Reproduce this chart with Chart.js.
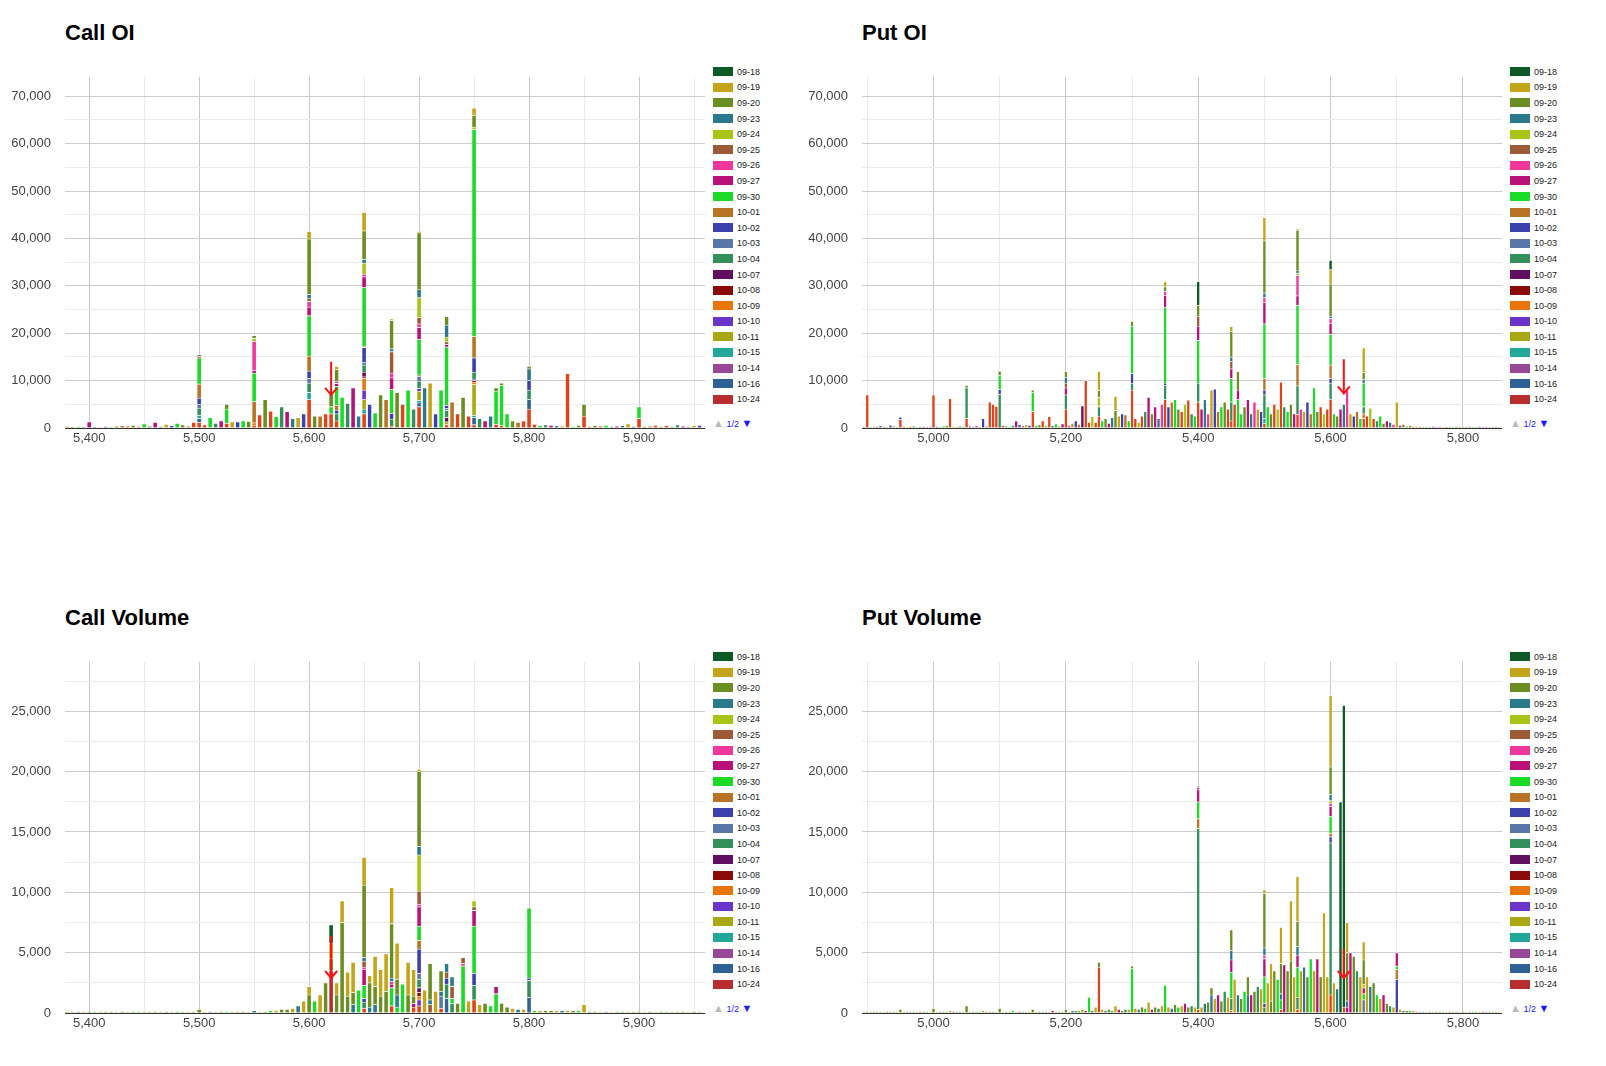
<!DOCTYPE html>
<html>
<head>
<meta charset="utf-8">
<script src="https://cdn.jsdelivr.net/npm/chart.js@4"></script>
<style>
  html, body { margin: 0; padding: 0; overflow: hidden; width: 1606px; height: 1066px; background: #fff; font-family: "Liberation Sans", Arial, sans-serif; }
  #page { position: relative; width: 1606px; height: 1066px; overflow: hidden; }
  .title { position: absolute; font-weight: bold; font-size: 22px; color: #000; }
  .box { position: absolute; }
  .legend { position: absolute; font-size: 9px; color: #222; }
  .legend div { height: 15.6px; display: flex; align-items: center; }
  .legend span.sw { display: inline-block; width: 20px; height: 9px; margin-right: 4px; }
  .pager { position: absolute; font-size: 9px; color: #1a1aff; }
</style>
</head>
<body>
<div id="page"></div>
<script>
// expiries shown in the legend (first page), plus one from page 2
const expiries = ["09-18", "09-19", "09-20", "09-23", "09-24", "09-25", "09-26", "09-27", "09-30", "10-01",
  "10-02", "10-03", "10-04", "10-07", "10-08", "10-09", "10-10", "10-11", "10-15", "10-14", "10-16", "10-24", "10-31"];
const expiryColors = ["#0d5a26", "#c4a41a", "#6b8e23", "#2a7a8c", "#a8c414", "#9c5b36", "#f0389c", "#b8127a", "#1adb26", "#b87424",
  "#3c40ac", "#5876a8", "#33905a", "#620f62", "#8a0a0a", "#e8740a", "#6a34c8", "#aaa812", "#22a898", "#984896", "#2e6296", "#b82e2e", "#e0431a"];
const legendCount = 22;

const range = (start, count) => Array.from({ length: count }, (_, i) => start + 5 * i);
const callStrikes = range(5380, 116);
const putStrikes = range(4895, 193);

// axis ticks
const callXTicks = [5400, 5450, 5500, 5550, 5600, 5650, 5700, 5750, 5800, 5850, 5900, 5950];
const putXTicks = [4900, 5000, 5100, 5200, 5300, 5400, 5500, 5600, 5700, 5800];
const oiYTicks = [0, 5000, 10000, 15000, 20000, 25000, 30000, 35000, 40000, 45000, 50000, 55000, 60000, 65000, 70000];
const volYTicks = [0, 2500, 5000, 7500, 10000, 12500, 15000, 17500, 20000, 22500, 25000, 27500];

// ---- Call OI ----
const callOiTotals = [
  300, 200, 300, 200, 1300, 200, 100, 300, 200, 400,
  500, 400, 600, 300, 900, 400, 1200, 300, 800, 500,
  1000, 700, 400, 1200, 15500, 700, 2200, 1000, 1500, 5000,
  1300, 1300, 1500, 1400, 19500, 2800, 6000, 3600, 2400, 4500,
  3500, 2000, 2200, 3000, 43500, 2500, 2500, 3000, 7500, 13000,
  6500, 5200, 8500, 2500, 45500, 5000, 3200, 7000, 6000, 23000,
  7500, 5000, 8000, 4000, 41500, 8500, 9500, 3000, 8000, 23500,
  5500, 3000, 6500, 2500, 67500, 2000, 1500, 2500, 8500, 9500,
  3000, 1500, 1200, 1500, 13000, 800, 500, 700, 600, 500,
  400, 11500, 300, 600, 5000, 300, 500, 400, 600, 300,
  400, 500, 900, 300, 4500, 300, 400, 600, 300, 500,
  300, 700, 400, 300, 500, 600];
const callOiMix = [2, 22, 8, 12, 7, 3, 1, 10, 8, 2, 9, 22];
const callOiSplit = [
  [5500, [[22, 1200], [12, 1500], [11, 800], [10, 1300], [9, 3000], [8, 5500], [7, 300], [20, 800], [18, 700], [2, 400]]],
  [5525, [[22, 1000], [8, 3000], [2, 1000]]],
  [5550, [[22, 500], [15, 600], [9, 4500], [8, 6000], [7, 500], [6, 6200], [4, 600], [2, 600]]],
  [5600, [[22, 6000], [18, 1500], [12, 2000], [11, 1000], [10, 1500], [9, 3200], [8, 8500], [7, 1800], [6, 1200], [5, 700], [3, 800], [2, 11700], [1, 1600]]],
  [5620, [[22, 3000], [2, 3000], [8, 1500]]],
  [5625, [[22, 1500], [12, 1500], [10, 800], [9, 1000], [8, 4000], [7, 600], [6, 500], [2, 2500], [1, 600]]],
  [5650, [[22, 3000], [17, 2000], [16, 2000], [15, 2500], [14, 300], [13, 1000], [12, 1500], [11, 500], [10, 3200], [9, 300], [18, 1000], [8, 12400], [7, 2200], [6, 600], [4, 2300], [3, 800], [2, 6000], [1, 3900]]],
  [5675, [[22, 400], [12, 1500], [8, 5000], [10, 1200], [7, 2500], [6, 1000], [5, 4500], [3, 600], [2, 6000], [1, 300]]],
  [5700, [[20, 800], [22, 4500], [18, 500], [17, 2000], [12, 1500], [16, 600], [11, 1000], [9, 300], [8, 7500], [7, 2500], [6, 800], [5, 1300], [4, 4200], [3, 1700], [2, 12000], [1, 300]]],
  [5725, [[22, 700], [17, 600], [12, 1500], [13, 900], [11, 400], [10, 700], [8, 12300], [7, 500], [5, 600], [4, 1000], [3, 2500], [2, 1800]]],
  [5750, [[22, 700], [15, 500], [12, 1500], [17, 6500], [14, 300], [13, 300], [18, 500], [20, 1500], [10, 3000], [9, 4500], [8, 43700], [4, 500], [2, 2500], [1, 1500]]],
  [5770, [[22, 800], [8, 7000], [2, 700]]],
  [5775, [[22, 500], [8, 8500], [2, 500]]],
  [5800, [[22, 4000], [12, 2000], [10, 2000], [20, 2000], [3, 2500], [2, 500]]],
  [5835, [[22, 11500]]],
  [5850, [[22, 2500], [2, 2500]]],
  [5900, [[22, 2000], [8, 2500]]]];

// ---- Put OI ----
const putOiTotals = [
  300, 7000, 200, 300, 300, 500, 300, 200, 600, 400, 200, 2300, 300, 200, 300, 400, 200, 300, 300, 200,
  300, 7000, 300, 200, 400, 500, 6200, 300, 200, 400, 300, 9000, 400, 300, 500, 300, 2000, 400, 5500, 5000,
  4600, 12000, 500, 400, 300, 600, 1500, 800, 500, 700, 600, 8000, 500, 700, 1500, 600, 2400, 500, 900, 400,
  900, 11900, 600, 1000, 1500, 800, 4700, 10000, 1200, 2400, 1200, 11900, 1500, 2000, 1000, 2200, 6700, 2500, 3000, 2800,
  1500, 22500, 2000, 1200, 2500, 3500, 6500, 3000, 4500, 2000, 5000, 30900, 4500, 5500, 6000, 4000, 3500, 5000, 5900, 3000,
  2500, 30900, 4000, 6000, 3000, 8000, 8200, 3500, 4500, 5500, 4000, 21400, 5000, 11900, 3000, 4500, 6000, 3000, 5500, 4000,
  3500, 44400, 4500, 3000, 5000, 4000, 9700, 4500, 3500, 5000, 3000, 42000, 4000, 3500, 5500, 3000, 8500, 3500, 4500, 3000,
  4000, 35400, 3000, 2500, 4000, 5000, 8000, 3000, 2500, 3500, 2000, 16900, 2500, 4200, 2000, 1500, 2500, 1000, 1500, 1200,
  800, 5500, 600, 800, 400, 500, 300, 400, 300, 200, 300, 200, 300, 200, 300, 200, 200, 300, 200, 300,
  200, 300, 200, 300, 200, 200, 300, 200, 300, 200, 200, 300, 200];
const putOiMix = [22, 12, 8, 2, 7, 3, 6, 1, 10, 9, 8, 2, 22, 4];
const putOiSplit = [
  [4900, [[22, 7000]]], [4950, [[22, 1800], [10, 500]]], [5000, [[22, 7000]]], [5025, [[22, 6200]]],
  [5050, [[22, 2000], [12, 6500], [2, 500]]], [5085, [[22, 5500]]], [5090, [[22, 5000]]], [5095, [[22, 4600]]],
  [5100, [[22, 100], [12, 7000], [10, 1000], [8, 3000], [2, 900]]],
  [5150, [[22, 3500], [8, 4000], [2, 500]]],
  [5200, [[22, 4000], [12, 3000], [7, 1500], [5, 1000], [3, 1200], [2, 1200]]],
  [5225, [[13, 4700]]], [5230, [[22, 10000]]],
  [5250, [[22, 2500], [12, 2000], [4, 2000], [1, 4000], [2, 1400]]],
  [5275, [[2, 3700], [1, 3000]]],
  [5300, [[22, 8000], [12, 1500], [10, 2000], [8, 10000], [2, 1000]]],
  [5325, [[7, 6500]]],
  [5350, [[22, 6000], [12, 3000], [10, 500], [8, 16000], [7, 2500], [6, 800], [2, 1000], [1, 1100]]],
  [5400, [[22, 5500], [0, 5000], [12, 4000], [8, 9000], [7, 3000], [5, 2000], [2, 2400]]],
  [5450, [[22, 1500], [12, 4000], [3, 1000], [8, 5000], [7, 2000], [5, 1500], [2, 5400], [1, 1000]]],
  [5460, [[8, 6000], [7, 2000], [2, 3900]]],
  [5500, [[22, 1000], [12, 5000], [18, 1000], [10, 1000], [9, 2500], [8, 11500], [7, 4500], [6, 1000], [3, 1000], [2, 11000], [1, 4900]]],
  [5550, [[22, 2900], [12, 6000], [9, 4500], [8, 12500], [7, 2000], [6, 4300], [4, 500], [3, 500], [2, 8500], [1, 300]]],
  [5600, [[22, 6000], [12, 3500], [0, 2000], [10, 1000], [9, 2800], [8, 6500], [7, 2300], [6, 1000], [3, 500], [2, 6800], [1, 3000]]],
  [5650, [[22, 2000], [15, 1000], [12, 1500], [8, 5000], [3, 700], [2, 1500], [1, 5200]]]];

// ---- Call Volume ----
const callVolTotals = [
  100, 100, 100, 100, 100, 100, 100, 100, 100, 100,
  100, 100, 100, 100, 100, 100, 100, 100, 100, 100,
  100, 100, 100, 100, 300, 100, 100, 100, 100, 100,
  100, 100, 100, 100, 200, 100, 100, 200, 200, 300,
  300, 400, 600, 1000, 2200, 1000, 1500, 2500, 7300, 2500,
  9300, 3400, 4200, 1900, 12900, 3100, 4700, 3600, 4900, 10400,
  5800, 2400, 4200, 3600, 20200, 1900, 4100, 1800, 3500, 4100,
  3000, 800, 4600, 1000, 9300, 700, 800, 600, 2200, 800,
  500, 400, 300, 300, 8700, 200, 200, 200, 200, 200,
  200, 200, 200, 200, 700, 100, 100, 100, 100, 100,
  100, 100, 100, 100, 100, 100, 100, 100, 100, 100,
  100, 100, 100, 100, 100, 100];
const callVolMix = [2, 1, 3, 1, 2, 8, 1, 2];
const callVolSplit = [
  [5600, [[2, 1500], [1, 700]]],
  [5620, [[21, 3500], [2, 1000], [1, 1300], [0, 1500]]],
  [5625, [[2, 1500], [1, 1000]]],
  [5630, [[2, 7500], [1, 1800]]],
  [5635, [[2, 1400], [1, 2000]]],
  [5640, [[3, 700], [2, 1000], [1, 2500]]],
  [5650, [[22, 400], [10, 300], [12, 500], [8, 1100], [7, 1300], [6, 200], [5, 500], [3, 300], [2, 6000], [1, 2300]]],
  [5655, [[3, 500], [2, 2000], [1, 600]]],
  [5660, [[3, 700], [2, 1500], [1, 2500]]],
  [5665, [[2, 1400], [1, 2200]]],
  [5670, [[2, 1800], [1, 3100]]],
  [5675, [[22, 600], [8, 1500], [7, 300], [6, 200], [3, 300], [2, 4500], [1, 3000]]],
  [5680, [[8, 500], [3, 1000], [2, 1300], [1, 3000]]],
  [5690, [[2, 1500], [1, 2700]]],
  [5695, [[22, 500], [7, 300], [2, 600], [1, 2200]]],
  [5700, [[22, 600], [15, 300], [14, 300], [13, 400], [12, 700], [11, 500], [16, 500], [10, 2000], [9, 700], [8, 1200], [7, 1600], [6, 200], [5, 1100], [4, 3000], [3, 700], [2, 6200], [1, 200]]],
  [5710, [[5, 700], [3, 400], [2, 3000]]],
  [5720, [[22, 400], [11, 1000], [3, 400], [2, 1700]]],
  [5725, [[20, 1200], [12, 1200], [10, 500], [5, 500], [3, 700]]],
  [5730, [[12, 800], [8, 400], [5, 1000], [3, 800]]],
  [5740, [[8, 3900], [6, 200], [5, 500]]],
  [5750, [[22, 1100], [12, 1200], [10, 1000], [8, 3900], [7, 1300], [5, 300], [4, 500]]],
  [5770, [[8, 1600], [7, 600]]],
  [5800, [[8, 5800], [12, 1400], [20, 1300], [10, 200]]]];

// ---- Put Volume ----
const putVolTotals = [
  100, 100, 100, 100, 100, 100, 100, 100, 100, 100, 100, 300, 100, 100, 100, 100, 100, 100, 100, 100,
  100, 400, 100, 100, 100, 100, 200, 100, 100, 100, 100, 600, 100, 100, 100, 100, 200, 100, 100, 100,
  100, 400, 100, 100, 100, 200, 100, 100, 100, 100, 100, 300, 100, 100, 100, 100, 100, 200, 100, 100,
  100, 300, 100, 200, 200, 200, 300, 200, 1300, 200, 500, 4200, 300, 200, 300, 200, 600, 300, 200, 300,
  300, 3900, 400, 300, 500, 400, 900, 300, 500, 400, 600, 2300, 500, 400, 700, 500, 600, 800, 500, 600,
  500, 18800, 500, 800, 900, 2100, 1200, 1500, 1000, 1800, 1300, 6900, 2800, 1500, 1200, 1800, 3000, 1500, 1800, 2200,
  2000, 10200, 2500, 4100, 3500, 2800, 7100, 4000, 3500, 9300, 3000, 11300, 3500, 3800, 3000, 4500, 3500, 4500, 3000, 8300,
  3000, 26300, 2500, 2000, 17500, 25500, 7500, 5000, 4700, 3500, 3000, 5900, 3000, 2200, 2500, 1500, 1200, 1500, 800, 600,
  500, 5000, 300, 200, 200, 200, 200, 100, 100, 100, 100, 100, 100, 100, 100, 100, 100, 100, 100, 100,
  100, 100, 100, 100, 100, 100, 100, 100, 100, 100, 100, 100, 100];
const putVolMix = [1, 2, 1, 3, 2, 8, 1, 7, 2, 12];
const putVolSplit = [
  [5235, [[8, 1300]]],
  [5250, [[22, 3800], [2, 400]]],
  [5300, [[8, 3700], [2, 200]]],
  [5350, [[8, 2300]]],
  [5400, [[22, 300], [12, 15000], [9, 800], [8, 1400], [7, 1000], [6, 200], [2, 100]]],
  [5420, [[3, 1500], [2, 600]]],
  [5450, [[22, 200], [12, 1000], [8, 2200], [7, 1000], [3, 800], [2, 1700]]],
  [5475, [[3, 1500], [2, 1500]]],
  [5500, [[12, 500], [10, 300], [8, 2200], [7, 1500], [6, 300], [3, 600], [2, 4500], [1, 300]]],
  [5510, [[2, 1000], [1, 3100]]],
  [5525, [[22, 300], [8, 800], [3, 500], [2, 2500], [1, 3000]]],
  [5540, [[2, 4300], [1, 5000]]],
  [5550, [[22, 300], [12, 1000], [8, 2500], [7, 1000], [3, 700], [2, 2100], [1, 3700]]],
  [5590, [[1, 8300]]],
  [5600, [[22, 1500], [12, 12600], [10, 500], [9, 300], [8, 1400], [7, 800], [6, 300], [4, 200], [3, 500], [2, 2300], [1, 5900]]],
  [5615, [[0, 17500]]],
  [5620, [[22, 500], [0, 25000]]],
  [5625, [[7, 500], [3, 500], [2, 4000], [1, 2500]]],
  [5650, [[11, 1100], [8, 500], [7, 500], [4, 300], [2, 2000], [1, 1500]]],
  [5700, [[10, 2800], [9, 800], [8, 300], [7, 1100]]]];

// ---- page layout ----
const page = document.getElementById("page");

function buildDatasets(strikes, totals, mix, split) {
  const splitMap = new Map(split);
  const perSeries = expiries.map(() => []);
  strikes.forEach((s, i) => {
    if (splitMap.has(s)) {
      splitMap.get(s).forEach(([k, v]) => perSeries[k].push({ x: s, y: v }));
    } else {
      perSeries[mix[i % mix.length]].push({ x: s, y: totals[i] });
    }
  });
  // first expiry sits on top of the stack, so feed them bottom-up
  const sets = [];
  for (let k = expiries.length - 1; k >= 0; k--) {
    sets.push({
      label: expiries[k],
      data: perSeries[k],
      backgroundColor: expiryColors[k],
      borderColor: "#ffffff",
      borderWidth: { top: 0.8, bottom: 0, left: 0, right: 0 },
      borderSkipped: false,
    });
  }
  return sets;
}

const arrowPlugin = {
  id: "spotArrow",
  afterDatasetsDraw(chart, args, opts) {
    const { ctx, scales } = chart;
    const x = scales.x.getPixelForValue(opts.x);
    const y1 = scales.y.getPixelForValue(opts.from);
    const y2 = scales.y.getPixelForValue(opts.to);
    ctx.save();
    ctx.strokeStyle = "#ff1010";
    ctx.lineWidth = 2;
    ctx.beginPath();
    ctx.moveTo(x, y1);
    ctx.lineTo(x, y2);
    ctx.moveTo(x - 6, y2 - 7);
    ctx.lineTo(x, y2);
    ctx.lineTo(x + 6, y2 - 7);
    ctx.stroke();
    ctx.restore();
  },
};

function addPanel(cfg) {
  const title = document.createElement("div");
  title.className = "title";
  title.style.left = cfg.left + 65 + "px";
  title.style.top = cfg.top - 35 + "px";
  title.textContent = cfg.title;
  page.appendChild(title);

  const box = document.createElement("div");
  box.className = "box";
  box.style.left = cfg.left + "px";
  box.style.top = cfg.top + "px";
  box.style.width = "710px";
  box.style.height = "410px";
  const canvas = document.createElement("canvas");
  box.appendChild(canvas);
  page.appendChild(box);

  const legend = document.createElement("div");
  legend.className = "legend";
  legend.style.left = cfg.left + 713 + "px";
  legend.style.top = cfg.top + 9 + "px";
  for (let k = 0; k < legendCount; k++) {
    const row = document.createElement("div");
    row.innerHTML = `<span class="sw" style="background:${expiryColors[k]}"></span>${expiries[k]}`;
    legend.appendChild(row);
  }
  page.appendChild(legend);

  const pager = document.createElement("div");
  pager.className = "pager";
  pager.style.left = cfg.left + 713 + "px";
  pager.style.top = cfg.top + 362 + "px";
  pager.innerHTML = `<span style="color:#bbb;font-size:11px">&#9650;</span> 1/2 <span style="font-size:11px">&#9660;</span>`;
  page.appendChild(pager);

  const tickFont = { size: 13, family: "Liberation Sans, Arial" };

  new Chart(canvas, {
    type: "bar",
    data: { datasets: buildDatasets(cfg.strikes, cfg.totals, cfg.mix, cfg.split) },
    plugins: [arrowPlugin],
    options: {
      responsive: true,
      maintainAspectRatio: false,
      animation: false,
      layout: { padding: { top: 13, right: 5, left: 0, bottom: 0 } },
      datasets: { bar: { barThickness: cfg.barWidth } },
      plugins: {
        legend: { display: false },
        tooltip: { enabled: false },
        spotArrow: cfg.arrow,
      },
      scales: {
        x: {
          type: "linear",
          stacked: true,
          offset: false,
          min: cfg.xMin,
          max: cfg.xMax,
          afterFit: (a) => { a.height = 37; },
          afterBuildTicks: (a) => { a.ticks = cfg.xTicks.map((v) => ({ value: v })); },
          ticks: {
            autoSkip: false,
            maxRotation: 0,
            color: "#444",
            font: tickFont,
            callback: (v) => (v % cfg.xLabelStep === 0 ? v.toLocaleString("en-US") : ""),
          },
          grid: {
            offset: false,
            drawTicks: false,
            color: (c) => (c.tick && c.tick.value % cfg.xLabelStep === 0 ? "#c8c8c8" : "#ebebeb"),
          },
          border: { display: false },
        },
        y: {
          type: "linear",
          stacked: true,
          min: 0,
          max: cfg.yMax,
          afterFit: (a) => { a.width = 65; },
          afterBuildTicks: (a) => { a.ticks = cfg.yTicks.map((v) => ({ value: v })); },
          ticks: {
            autoSkip: false,
            padding: 14,
            color: "#444",
            font: tickFont,
            callback: (v) => (v % cfg.yLabelStep === 0 ? v.toLocaleString("en-US") : ""),
          },
          grid: {
            drawTicks: false,
            color: (c) => {
              const v = c.tick && c.tick.value;
              if (v === 0) return "#333333";
              return v % cfg.yLabelStep === 0 ? "#cccccc" : "#ebebeb";
            },
          },
          border: { display: false },
        },
      },
    },
  });
}

addPanel({ title: "Call OI", left: 0, top: 55, strikes: callStrikes, totals: callOiTotals, mix: callOiMix, split: callOiSplit,
  xMin: 5378, xMax: 5960, xTicks: callXTicks, xLabelStep: 100, yMax: 74100, yTicks: oiYTicks, yLabelStep: 10000, barWidth: 3.6,
  arrow: { x: 5620, from: 14000, to: 7000 } });
addPanel({ title: "Put OI", left: 797, top: 55, strikes: putStrikes, totals: putOiTotals, mix: putOiMix, split: putOiSplit,
  xMin: 4892, xMax: 5859, xTicks: putXTicks, xLabelStep: 200, yMax: 74100, yTicks: oiYTicks, yLabelStep: 10000, barWidth: 2.4,
  arrow: { x: 5620, from: 14500, to: 7300 } });
addPanel({ title: "Call Volume", left: 0, top: 640, strikes: callStrikes, totals: callVolTotals, mix: callVolMix, split: callVolSplit,
  xMin: 5378, xMax: 5960, xTicks: callXTicks, xLabelStep: 100, yMax: 29100, yTicks: volYTicks, yLabelStep: 5000, barWidth: 3.6,
  arrow: { x: 5620, from: 6400, to: 2900 } });
addPanel({ title: "Put Volume", left: 797, top: 640, strikes: putStrikes, totals: putVolTotals, mix: putVolMix, split: putVolSplit,
  xMin: 4892, xMax: 5859, xTicks: putXTicks, xLabelStep: 200, yMax: 29100, yTicks: volYTicks, yLabelStep: 5000, barWidth: 2.4,
  arrow: { x: 5620, from: 5300, to: 2900 } });
</script>
</body>
</html>
